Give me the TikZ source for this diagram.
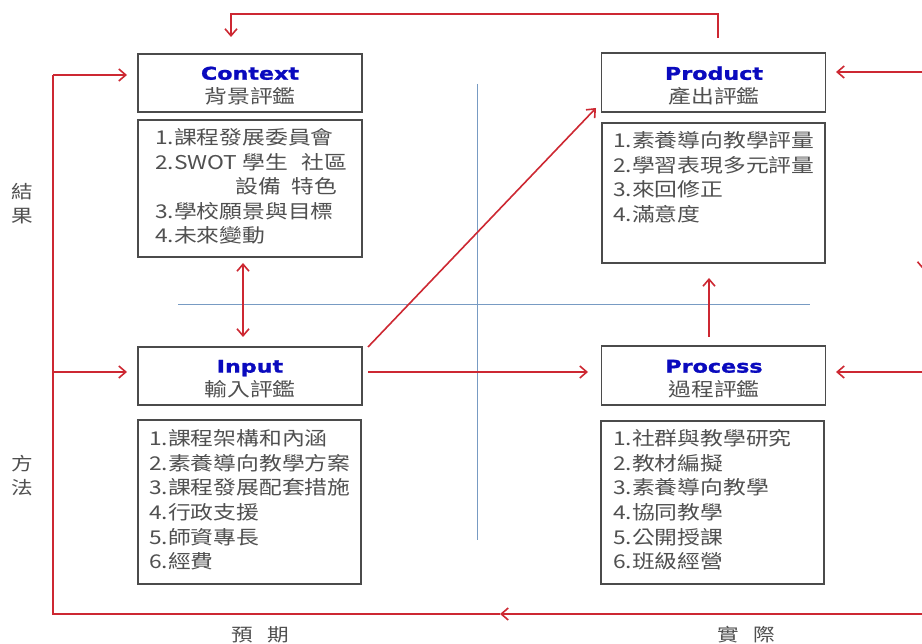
\documentclass[tikz,border=0pt]{standalone}
\usepackage{fontspec}
\usetikzlibrary{arrows.meta}
\newfontfamily\cjk[FakeStretch=1.2]{Noto Sans CJK TC}
\newfontfamily\ttlfont[FakeStretch=1.27, BoldFeatures={FakeBold=1.3}]{DejaVu Sans}
\definecolor{arrred}{RGB}{205,40,50}
\definecolor{ttlblue}{RGB}{10,10,190}
\definecolor{txtgray}{RGB}{80,80,80}
\definecolor{boxgray}{RGB}{75,75,75}
\definecolor{axisblue}{RGB}{120,155,195}
\newcommand{\ttl}[1]{{\ttlfont\bfseries\fontsize{17.5}{20}\selectfont\color{ttlblue}#1}}
\begin{document}
\begin{tikzpicture}[x=1pt,y=-1pt,
  hbox/.style={draw=boxgray, line width=1.8pt, minimum width=224pt, minimum height=58pt, inner sep=0pt},
  htext/.style={inner sep=0pt, align=center, font=\cjk\fontsize{19}{24}\selectfont, text=txtgray},
  bbox/.style={draw=boxgray, line width=1.8pt, inner sep=0pt},
  item/.style={anchor=base west, inner sep=0pt, font=\cjk\fontsize{19}{23}\selectfont, text=txtgray},
  rl/.style={draw=arrred, line width=1.6pt},
  tip/.style={-{Straight Barb[length=7pt,width=12pt]}},
  dtip/.style={{Straight Barb[length=7pt,width=12pt]}-{Straight Barb[length=7pt,width=12pt]}},
  ax/.style={draw=axisblue, line width=1pt},
  side/.style={font=\cjk\fontsize{18}{24}\selectfont, text=txtgray, inner sep=0pt, align=center}
]
\useasboundingbox (0,0) rectangle (922,644);
\fill[white] (0,0) rectangle (922,644);

% axes
\coordinate (axl) at (178,305); \coordinate (axr) at (810,305);
\coordinate (axt) at (477,84);  \coordinate (axb) at (477,540);
\draw[ax] (axl) -- (axr);
\draw[ax] (axt) -- (axb);

% header boxes
\node[hbox] (ctxH) at (250,83) {};
\node[hbox, minimum height=59pt] (prdH) at (713.5,82.5) {};
\node[hbox] (inpH) at (250,376) {};
\node[hbox, minimum height=59pt] (prcH) at (713.5,375.5) {};
\node[htext] (ctxT) at (250,86) {\ttl{Context}\\背景評鑑};
\node[htext] (prdT) at (714,86) {\ttl{Product}\\產出評鑑};
\node[htext] (inpT) at (250,379) {\ttl{Input}\\輸入評鑑};
\node[htext] (prcT) at (714,379) {\ttl{Process}\\過程評鑑};

% body boxes
\node[bbox, minimum width=224pt, minimum height=137pt] (ctxB) at (250,188.5) {};
\node[bbox, minimum width=223pt, minimum height=140pt] (prdB) at (713.5,193) {};
\node[bbox, minimum width=223pt, minimum height=164pt] (inpB) at (249.5,502) {};
\node[bbox, minimum width=223pt, minimum height=163pt] (prcB) at (712.5,502.5) {};

% context items
\node[item] (c1) at (155,145) {1.課程發展委員會};
\node[item] (c2) at (155,169.5) {2.SWOT 學生\hspace{13pt}社區};
\node[item] (c3) at (235,194) {設備\hspace{11pt}特色};
\node[item] (c4) at (155,218.5) {3.學校願景與目標};
\node[item] (c5) at (155,243) {4.未來變動};

% product items
\foreach \t [count=\i] in {1.素養導向教學評量, 2.學習表現多元評量, 3.來回修正, 4.滿意度}
  \node[item] (p\i) at (613,{148+24.5*(\i-1)}) {\t};

% input items
\foreach \t [count=\i] in {1.課程架構和內涵, 2.素養導向教學方案, 3.課程發展配套措施, 4.行政支援, 5.師資專長, 6.經費}
  \node[item] (n\i) at (149,{446+24.5*(\i-1)}) {\t};

% process items
\foreach \t [count=\i] in {1.社群與教學研究, 2.教材編擬, 3.素養導向教學, 4.協同教學, 5.公開授課, 6.班級經營}
  \node[item] (s\i) at (613,{446+24.5*(\i-1)}) {\t};

% side labels
\node[side] (jg) at (22,204) {結\\果};
\node[side] (ff) at (22,476) {方\\法};
\node[side] (yq) at (260.5,635) {預\hspace{14pt}期};
\node[side] (sj) at (746.5,635) {實\hspace{14pt}際};

% connector coordinates
\coordinate (tp1) at (718,38); \coordinate (tpc1) at (718,14);
\coordinate (tpc2) at (231,14); \coordinate (tp2) at (231,37);
\coordinate (rb) at (923.5,614); \coordinate (midb) at (500,614);
\coordinate (lb) at (53,614); \coordinate (ltop) at (53,75);
\coordinate (ctxIn) at (127,75); \coordinate (lmid) at (53,372);
\coordinate (inIn) at (127,372);
\coordinate (rt) at (923.5,72); \coordinate (rdown) at (923.5,270);
\coordinate (prdIn) at (836,72); \coordinate (rmid) at (923.5,372);
\coordinate (prcIn) at (836,372);
\coordinate (dg1) at (368,347); \coordinate (dg2) at (596,108);
\coordinate (h1) at (368,372); \coordinate (h2) at (588,372);
\coordinate (u1) at (709,337); \coordinate (u2) at (709,278);
\coordinate (d1) at (243,263); \coordinate (d2) at (243,337);

% top feedback
\draw[rl, tip] (tp1) -- (tpc1) -- (tpc2) -- (tp2);
% bottom / left loop
\draw[rl, tip] (rb) -- (midb);
\draw[rl] (midb) -- (lb) -- (ltop);
\draw[rl, tip] (ltop) -- (ctxIn);
\draw[rl, tip] (lmid) -- (inIn);
% right loop
\draw[rl, tip] (rt) -- (rdown);
\draw[rl] (rdown) -- (rb);
\draw[rl, tip] (rt) -- (prdIn);
\draw[rl, tip] (rmid) -- (prcIn);
% inner connectors
\draw[rl, dtip] (d1) -- (d2);
\draw[rl, tip] (dg1) -- (dg2);
\draw[rl, tip] (h1) -- (h2);
\draw[rl, tip] (u1) -- (u2);
\end{tikzpicture}
\end{document}
